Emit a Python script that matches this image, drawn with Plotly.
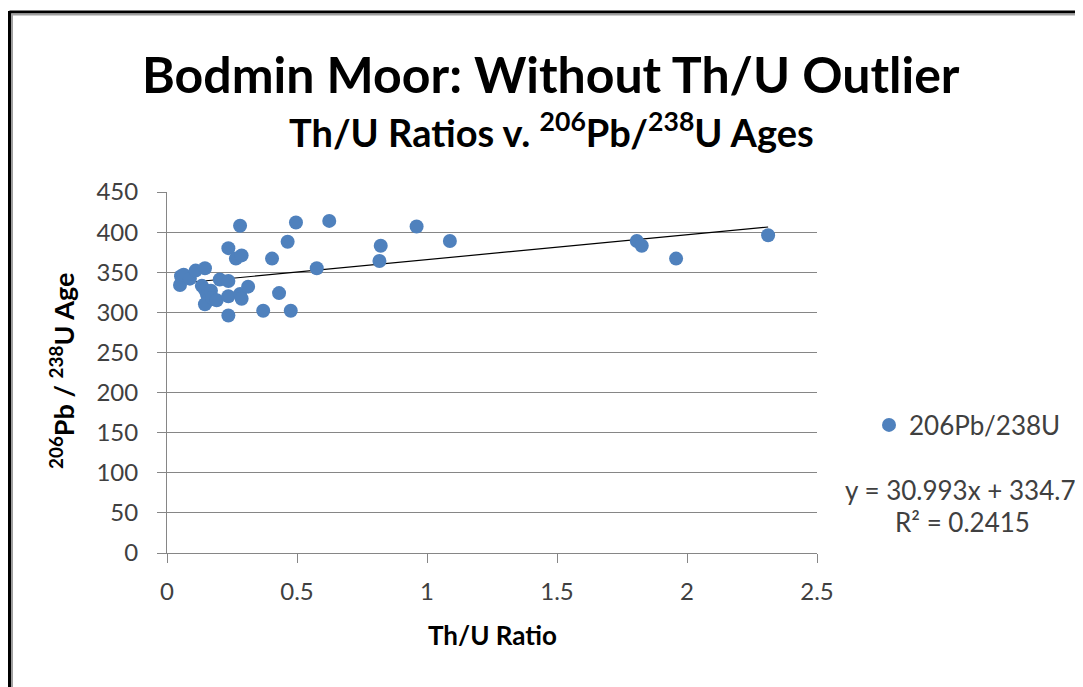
import plotly.graph_objects as go

# Data
th_u_ratio = [0.050, 0.054, 0.064, 0.088, 0.110, 0.146, 0.134, 0.146, 0.154, 0.159,
              0.146, 0.169, 0.174, 0.191, 0.203, 0.236, 0.236, 0.236, 0.236, 0.265,
              0.287, 0.281, 0.281, 0.287, 0.312, 0.370, 0.404, 0.431, 0.464, 0.476,
              0.496, 0.576, 0.624, 0.817, 0.822, 0.960, 1.088, 1.807, 1.826, 1.958,
              2.312]
pb_u_age = [334, 345, 347, 342, 352, 355, 333, 328, 322, 315,
            310, 327, 318, 315, 341, 339, 320, 296, 380, 367,
            371, 408, 323, 317, 332, 302, 367, 324, 388, 302,
            412, 355, 414, 364, 383, 407, 389, 389, 383, 367,
            396]

trend_slope = 30.993
trend_intercept = 334.7
series_name = "206Pb/238U"
equation_text = "y = 30.993x + 334.7"
r2_text = "R² = 0.2415"

x_ticks = [0, 0.5, 1, 1.5, 2, 2.5]
y_ticks = [0, 50, 100, 150, 200, 250, 300, 350, 400, 450]

# page geometry (the page body has an 8px margin)
PAGE_W, PAGE_H = 1083, 687
OFF = 8
L, R, T, B = 167, 817, 192, 553  # plot area bounds in page pixels


def px_x(p):
    return (p - L) / (R - L)


def px_y(p):
    return (B - p) / (B - T)


FONT = "Lato"
TXT = "#404040"

xmin, xmax = min(th_u_ratio), max(th_u_ratio)
trend_x = [xmin, xmax]
trend_y = [trend_slope * v + trend_intercept for v in trend_x]

fig = go.Figure()
fig.add_trace(go.Scatter(
    x=trend_x, y=trend_y, mode="lines",
    line=dict(color="black", width=1.2), showlegend=False, hoverinfo="skip"))
fig.add_trace(go.Scatter(
    x=th_u_ratio, y=pb_u_age, mode="markers", name=series_name,
    marker=dict(color="#4F81BD", size=14)))

fig.update_layout(
    width=PAGE_W - OFF, height=PAGE_H - OFF, autosize=False,
    margin=dict(l=L - OFF, r=PAGE_W - R, t=T - OFF, b=PAGE_H - B, pad=0),
    paper_bgcolor="white", plot_bgcolor="white",
    font=dict(family=FONT, color=TXT),
    showlegend=True,
    legend=dict(x=px_x(869), y=px_y(425), xanchor="left", yanchor="middle",
                font=dict(family=FONT, size=26, color=TXT),
                bgcolor="rgba(0,0,0,0)", itemwidth=30),
)
fig.update_xaxes(
    range=[0, 2.5], tickvals=x_ticks, ticktext=[str(v) for v in x_ticks],
    showgrid=False, zeroline=False, showline=True, linecolor="#868686", linewidth=1,
    ticks="outside", ticklen=9, tickcolor="#868686", ticklabelstandoff=8,
    tickfont=dict(family=FONT, size=24, color=TXT))
fig.update_yaxes(
    range=[0, 450], tickvals=y_ticks,
    showgrid=True, gridcolor="#868686", gridwidth=1, zeroline=False,
    showline=True, linecolor="#868686", linewidth=1,
    ticks="outside", ticklen=9, tickcolor="#868686", ticklabelstandoff=14,
    tickfont=dict(family=FONT, size=24, color=TXT))

ann = [
    dict(text="<b>Bodmin Moor: Without Th/U Outlier</b>", x=px_x(551), y=px_y(74),
         font=dict(size=50, color="black")),
    dict(text="<b>Th/U Ratios v. <sup>206</sup>Pb/<sup>238</sup>U Ages</b>", x=px_x(551), y=px_y(130),
         font=dict(size=38, color="black")),
    dict(text="<b><sup>206</sup>Pb / <sup>238</sup>U Age</b>", x=px_x(62), y=px_y(371),
         textangle=-90, font=dict(size=27, color="black")),
    dict(text="<b>Th/U Ratio</b>", x=px_x(493), y=px_y(635),
         font=dict(size=26, color="black")),
    dict(text=equation_text, x=px_x(960), y=px_y(490),
         font=dict(size=26, color=TXT)),
    dict(text=r2_text, x=px_x(962), y=px_y(522),
         font=dict(size=26, color=TXT)),
]
for a in ann:
    fig.add_annotation(xref="paper", yref="paper", showarrow=False,
                       xanchor="center", yanchor="middle", **a)

# chart border (top and left visible in the reference)
fig.add_shape(type="line", xref="paper", yref="paper",
              x0=px_x(9.5), x1=px_x(1100), y0=px_y(12), y1=px_y(12),
              line=dict(color="black", width=3))
fig.add_shape(type="line", xref="paper", yref="paper",
              x0=px_x(9.5), x1=px_x(9.5), y0=px_y(11), y1=px_y(700),
              line=dict(color="black", width=3))
fig.add_shape(type="line", xref="paper", yref="paper",
              x0=px_x(12), x1=px_x(1100), y0=px_y(14.5), y1=px_y(14.5),
              line=dict(color="#A0A0A0", width=2))
fig.add_shape(type="line", xref="paper", yref="paper",
              x0=px_x(12), x1=px_x(12), y0=px_y(14), y1=px_y(700),
              line=dict(color="#A0A0A0", width=2))

fig.write_html("out.html")
